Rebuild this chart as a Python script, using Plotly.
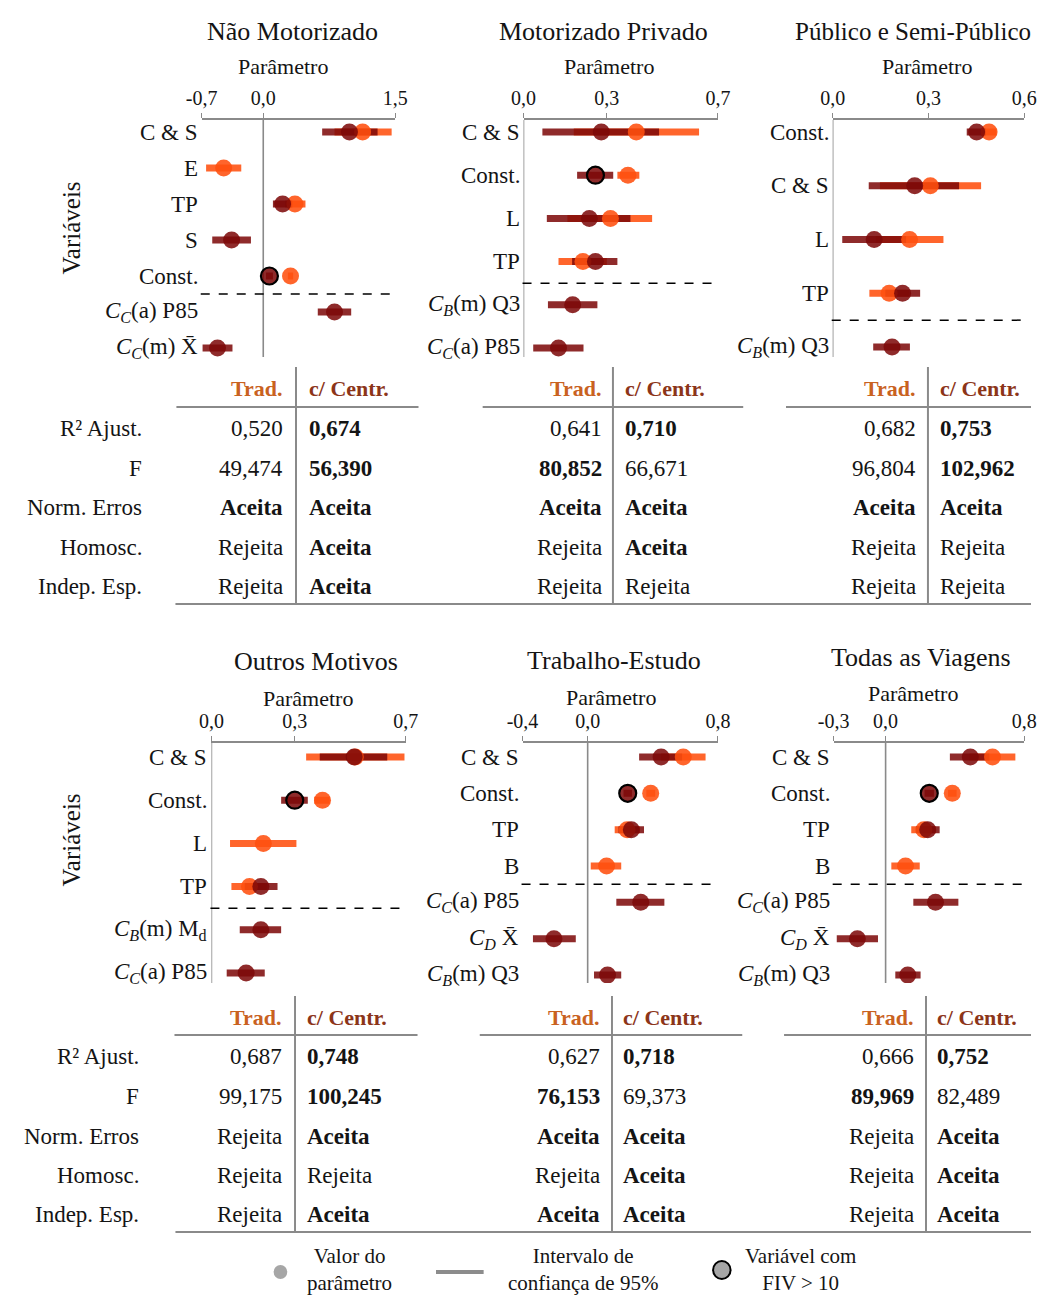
import plotly.graph_objects as go

# ---------------- Não Motorizado ----------------
nm_title = "Não Motorizado"
nm_vars = ["C & S", "E", "TP", "S", "Const.",
           "<i>C</i><sub><i>C</i></sub>(a) P85",
           "<i>C</i><sub><i>C</i></sub>(m) X\u0304"]
nm_ticks = [-0.7, 0.0, 1.5]
nm_trad = [1.13, -0.45, 0.36, None, 0.31, None, None]
nm_trad_lo = [0.81, -0.65, 0.25, None, 0.28, None, None]
nm_trad_hi = [1.46, -0.25, 0.48, None, 0.34, None, None]
nm_cent = [0.98, None, 0.22, -0.36, 0.07, 0.81, -0.52]
nm_cent_lo = [0.67, None, 0.11, -0.58, 0.03, 0.62, -0.69]
nm_cent_hi = [1.30, None, 0.33, -0.14, 0.11, 1.00, -0.35]
nm_fiv = ["Const."]
nm_n_base = 5
nm_stats_trad = [0.520, 49.474, "Aceita", "Rejeita", "Rejeita"]
nm_stats_cent = [0.674, 56.390, "Aceita", "Aceita", "Aceita"]

# ---------------- Motorizado Privado ----------------
mp_title = "Motorizado Privado"
mp_vars = ["C & S", "Const.", "L", "TP",
           "<i>C</i><sub><i>B</i></sub>(m) Q3",
           "<i>C</i><sub><i>C</i></sub>(a) P85"]
mp_ticks = [0.0, 0.3, 0.7]
mp_trad = [0.406, 0.376, 0.313, 0.214, None, None]
mp_trad_lo = [0.181, 0.338, 0.158, 0.126, None, None]
mp_trad_hi = [0.632, 0.417, 0.463, 0.300, None, None]
mp_cent = [0.280, 0.259, 0.237, 0.259, 0.177, 0.126]
mp_cent_lo = [0.068, 0.193, 0.084, 0.175, 0.088, 0.035]
mp_cent_hi = [0.488, 0.323, 0.385, 0.338, 0.266, 0.216]
mp_fiv = ["Const."]
mp_n_base = 4
mp_stats_trad = [0.641, 80.852, "Aceita", "Rejeita", "Rejeita"]
mp_stats_cent = [0.710, 66.671, "Aceita", "Aceita", "Rejeita"]

# ---------------- Público e Semi-Público ----------------
ps_title = "Público e Semi-Público"
ps_vars = ["Const.", "C & S", "L", "TP",
           "<i>C</i><sub><i>B</i></sub>(m) Q3"]
ps_ticks = [0.0, 0.3, 0.6]
ps_trad = [0.490, 0.306, 0.241, 0.177, None]
ps_trad_lo = [0.465, 0.148, 0.135, 0.115, None]
ps_trad_hi = [0.513, 0.465, 0.347, 0.240, None]
ps_cent = [0.451, 0.257, 0.130, 0.219, 0.186]
ps_cent_lo = [0.420, 0.113, 0.030, 0.165, 0.127]
ps_cent_hi = [0.480, 0.396, 0.230, 0.274, 0.242]
ps_fiv = []
ps_n_base = 4
ps_stats_trad = [0.682, 96.804, "Aceita", "Rejeita", "Rejeita"]
ps_stats_cent = [0.753, 102.962, "Aceita", "Rejeita", "Rejeita"]

# ---------------- Outros Motivos ----------------
om_title = "Outros Motivos"
om_vars = ["C & S", "Const.", "L", "TP",
           "<i>C</i><sub><i>B</i></sub>(m) M<sub>d</sub>",
           "<i>C</i><sub><i>C</i></sub>(a) P85"]
om_ticks = [0.0, 0.3, 0.7]
om_trad = [0.518, 0.400, 0.187, 0.137, None, None]
om_trad_lo = [0.341, 0.370, 0.067, 0.072, None, None]
om_trad_hi = [0.695, 0.426, 0.306, 0.200, None, None]
om_cent = [0.514, 0.300, None, 0.178, 0.178, 0.125]
om_cent_lo = [0.390, 0.251, None, 0.120, 0.102, 0.055]
om_cent_hi = [0.633, 0.347, None, 0.238, 0.251, 0.192]
om_fiv = ["Const."]
om_n_base = 4
om_stats_trad = [0.687, 99.175, "Rejeita", "Rejeita", "Rejeita"]
om_stats_cent = [0.748, 100.245, "Aceita", "Rejeita", "Aceita"]

# ---------------- Trabalho-Estudo ----------------
te_title = "Trabalho-Estudo"
te_vars = ["C & S", "Const.", "TP", "B",
           "<i>C</i><sub><i>C</i></sub>(a) P85",
           "<i>C</i><sub><i>D</i></sub> X\u0304",
           "<i>C</i><sub><i>B</i></sub>(m) Q3"]
te_ticks = [-0.4, 0.0, 0.8]
te_trad = [0.587, 0.387, 0.242, 0.116, None, None, None]
te_trad_lo = [0.450, 0.360, 0.166, 0.019, None, None, None]
te_trad_hi = [0.724, 0.415, 0.320, 0.206, None, None, None]
te_cent = [0.451, 0.246, 0.268, None, 0.326, -0.207, 0.122]
te_cent_lo = [0.316, 0.220, 0.190, None, 0.176, -0.336, 0.039]
te_cent_hi = [0.580, 0.272, 0.346, None, 0.471, -0.073, 0.206]
te_fiv = ["Const."]
te_n_base = 4
te_stats_trad = [0.627, 76.153, "Aceita", "Rejeita", "Aceita"]
te_stats_cent = [0.718, 69.373, "Aceita", "Aceita", "Aceita"]

# ---------------- Todas as Viagens ----------------
tv_title = "Todas as Viagens"
tv_vars = ["C & S", "Const.", "TP", "B",
           "<i>C</i><sub><i>C</i></sub>(a) P85",
           "<i>C</i><sub><i>D</i></sub> X\u0304",
           "<i>C</i><sub><i>B</i></sub>(m) Q3"]
tv_ticks = [-0.3, 0.0, 0.8]
tv_trad = [0.617, 0.385, 0.221, 0.115, None, None, None]
tv_trad_lo = [0.485, 0.360, 0.148, 0.033, None, None, None]
tv_trad_hi = [0.749, 0.410, 0.290, 0.197, None, None, None]
tv_cent = [0.489, 0.252, 0.243, None, 0.288, -0.163, 0.128]
tv_cent_lo = [0.371, 0.225, 0.175, None, 0.160, -0.282, 0.056]
tv_cent_hi = [0.600, 0.279, 0.312, None, 0.420, -0.044, 0.202]
tv_fiv = ["Const."]
tv_n_base = 4
tv_stats_trad = [0.666, 89.969, "Rejeita", "Rejeita", "Rejeita"]
tv_stats_cent = [0.752, 82.489, "Aceita", "Aceita", "Aceita"]

stat_labels = ["R² Ajust.", "F", "Norm. Erros", "Homosc.", "Indep. Esp."]
col_headers = ["Trad.", "c/ Centr."]
legend_texts = ["Valor do<br>parâmetro", "Intervalo de<br>confiança de 95%",
                "Variável com<br>FIV > 10"]
side_title = "Variáveis"
axis_title = "Parâmetro"

panels = [
    dict(title=nm_title, vars=nm_vars, ticks=nm_ticks, trad=nm_trad, trad_lo=nm_trad_lo,
         trad_hi=nm_trad_hi, cent=nm_cent, cent_lo=nm_cent_lo, cent_hi=nm_cent_hi,
         fiv=nm_fiv, n_base=nm_n_base, st=nm_stats_trad, sc=nm_stats_cent),
    dict(title=mp_title, vars=mp_vars, ticks=mp_ticks, trad=mp_trad, trad_lo=mp_trad_lo,
         trad_hi=mp_trad_hi, cent=mp_cent, cent_lo=mp_cent_lo, cent_hi=mp_cent_hi,
         fiv=mp_fiv, n_base=mp_n_base, st=mp_stats_trad, sc=mp_stats_cent),
    dict(title=ps_title, vars=ps_vars, ticks=ps_ticks, trad=ps_trad, trad_lo=ps_trad_lo,
         trad_hi=ps_trad_hi, cent=ps_cent, cent_lo=ps_cent_lo, cent_hi=ps_cent_hi,
         fiv=ps_fiv, n_base=ps_n_base, st=ps_stats_trad, sc=ps_stats_cent),
    dict(title=om_title, vars=om_vars, ticks=om_ticks, trad=om_trad, trad_lo=om_trad_lo,
         trad_hi=om_trad_hi, cent=om_cent, cent_lo=om_cent_lo, cent_hi=om_cent_hi,
         fiv=om_fiv, n_base=om_n_base, st=om_stats_trad, sc=om_stats_cent),
    dict(title=te_title, vars=te_vars, ticks=te_ticks, trad=te_trad, trad_lo=te_trad_lo,
         trad_hi=te_trad_hi, cent=te_cent, cent_lo=te_cent_lo, cent_hi=te_cent_hi,
         fiv=te_fiv, n_base=te_n_base, st=te_stats_trad, sc=te_stats_cent),
    dict(title=tv_title, vars=tv_vars, ticks=tv_ticks, trad=tv_trad, trad_lo=tv_trad_lo,
         trad_hi=tv_trad_hi, cent=tv_cent, cent_lo=tv_cent_lo, cent_hi=tv_cent_hi,
         fiv=tv_fiv, n_base=tv_n_base, st=tv_stats_trad, sc=tv_stats_cent),
]

# ---------------- layout geometry (pixels) ----------------
W, H = 1044, 1295
FONT = "Liberation Serif, Times New Roman, serif"
TEXT = "#141414"
AXIS = "#8a8a8a"
ORANGE = "rgba(255,80,15,0.88)"
DARK = "rgba(125,8,8,0.86)"
TRAD_HDR = "#c9621f"
CENT_HDR = "#8c3519"
GRAY = "#a6a6a6"

# plot box: left, right, top, bottom, first row centre, last row centre
boxes = [
    (191, 390, 120, 357, 132, 348),
    (522, 722, 120, 357, 132, 348),
    (840, 1037, 120, 357, 132, 347),
    (201, 401, 743, 983, 757, 973),
    (521, 722, 743, 983, 757, 975),
    (841, 1037, 743, 983, 757, 975),
]
# title centre x/y, title font size, "Parâmetro" centre x/y
title_pos = [
    (284, 31, 26, 275, 67), (604, 31, 26, 610, 67), (923, 31, 25, 937, 67),
    (309, 661, 26, 300, 698), (615, 660, 26, 612, 697), (931, 657, 26, 923, 694),
]
# table columns: trad right edge, divider, centr left edge, header rule x0, x1
table_cols = [
    (277, 288, 299, 165, 414), (605, 614, 624, 480, 748), (928, 938, 948, 792, 1044),
    (276, 287, 297, 163, 413), (603, 613, 622, 477, 747), (926, 936, 945, 790, 1044),
]
# table rows per band: header y, row ys, header rule y, bottom rule y, divider top, label right x
table_rows = [
    (389, [428, 468, 507, 547, 586], 407, 604, 367, 132),
    (1017, [1056, 1096, 1136, 1175, 1214], 1035, 1232, 996, 129),
]


def fx(px):
    return px / W


def fy(py):
    return 1 - py / H


def num(v):
    return f"{v:.1f}".replace(".", ",")


fig = go.Figure()
shapes, annotations, axes = [], [], {}

for k, (p, box) in enumerate(zip(panels, boxes), start=1):
    xa = "x" if k == 1 else f"x{k}"
    ya = "y" if k == 1 else f"y{k}"
    left, right, top, bottom, r0, r1 = box
    n = len(p["vars"])
    step = (r1 - r0) / (n - 1)
    yrange = [n - 1 + (bottom - r1) / step, -(r0 - top) / step]
    t = p["ticks"]

    axes["xaxis" if k == 1 else f"xaxis{k}"] = dict(
        domain=[fx(left), fx(right)], range=[t[0], t[-1]], side="top", anchor=ya,
        showline=True, linecolor=AXIS, linewidth=1.6, ticks="outside", ticklen=5,
        tickcolor=AXIS, tickwidth=1.4, tickvals=t, ticktext=[num(v) for v in t],
        tickfont=dict(family=FONT, size=20, color=TEXT), showgrid=False,
        zeroline=False, fixedrange=True)
    axes["yaxis" if k == 1 else f"yaxis{k}"] = dict(
        domain=[fy(bottom), fy(top)], range=yrange, anchor=xa, showline=False,
        showticklabels=False, ticks="", showgrid=False, zeroline=False, fixedrange=True)

    # confidence intervals
    for key, color in (("trad", ORANGE), ("cent", DARK)):
        xs, ys = [], []
        for i in range(n):
            lo, hi = p[key + "_lo"][i], p[key + "_hi"][i]
            if lo is None:
                continue
            xs += [lo, hi, None]
            ys += [i, i, None]
        fig.add_trace(go.Scatter(x=xs, y=ys, mode="lines", xaxis=xa, yaxis=ya,
                                 line=dict(color=color, width=7), hoverinfo="skip",
                                 showlegend=False))
    # parameter values
    for key, color in (("trad", ORANGE), ("cent", DARK)):
        idx = [i for i, v in enumerate(p[key]) if v is not None]
        widths = [2.2 if (key == "cent" and p["vars"][i] in p["fiv"]) else 0 for i in idx]
        fig.add_trace(go.Scatter(
            x=[p[key][i] for i in idx], y=idx, mode="markers", xaxis=xa, yaxis=ya,
            marker=dict(size=17, color=color, line=dict(color="black", width=widths)),
            hoverinfo="skip", showlegend=False))

    # zero line and separator of added variables
    shapes.append(dict(type="line", xref=xa, yref=f"{ya} domain", x0=0, x1=0, y0=0, y1=1,
                       line=dict(color=AXIS, width=1.6), layer="below"))
    sep = p["n_base"] - 0.5
    shapes.append(dict(type="line", xref=f"{xa} domain", yref=ya, x0=-0.005, x1=1.0,
                       y0=sep, y1=sep, line=dict(color="black", width=1.5, dash="dash")))

    # variable names
    for i, lab in enumerate(p["vars"]):
        annotations.append(dict(xref=f"{xa} domain", yref=ya, x=0, y=i, xanchor="right",
                                yanchor="middle", xshift=-2, text=lab, showarrow=False,
                                font=dict(family=FONT, size=23, color=TEXT)))

    tx, ty, tsize, px_, py_ = title_pos[k - 1]
    annotations.append(dict(xref="paper", yref="paper", x=fx(tx), y=fy(ty), text=p["title"],
                            showarrow=False, xanchor="center", yanchor="middle",
                            font=dict(family=FONT, size=tsize, color=TEXT)))
    annotations.append(dict(xref="paper", yref="paper", x=fx(px_), y=fy(py_), text=axis_title,
                            showarrow=False, xanchor="center", yanchor="middle",
                            font=dict(family=FONT, size=22, color=TEXT)))

    # statistics table
    tr, dv, cl, hx0, hx1 = table_cols[k - 1]
    hy, rys, hline, bline, dtop, lab_x = table_rows[0 if k <= 3 else 1]
    annotations.append(dict(xref="paper", yref="paper", x=fx(tr), y=fy(hy), text=f"<b>{col_headers[0]}</b>",
                            showarrow=False, xanchor="right", yanchor="middle",
                            font=dict(family=FONT, size=22, color=TRAD_HDR)))
    annotations.append(dict(xref="paper", yref="paper", x=fx(cl), y=fy(hy), text=f"<b>{col_headers[1]}</b>",
                            showarrow=False, xanchor="left", yanchor="middle",
                            font=dict(family=FONT, size=22, color=CENT_HDR)))
    for r, (a, b) in enumerate(zip(p["st"], p["sc"])):
        if isinstance(a, float):
            sa, sb = f"{a:.3f}".replace(".", ","), f"{b:.3f}".replace(".", ",")
            ba, bb = a > b, b > a
        else:
            sa, sb = a, b
            ba, bb = a == "Aceita", b == "Aceita"
        for txt, bold, xx, anc in ((sa, ba, tr, "right"), (sb, bb, cl, "left")):
            annotations.append(dict(xref="paper", yref="paper", x=fx(xx), y=fy(rys[r]),
                                    text=f"<b>{txt}</b>" if bold else txt, showarrow=False,
                                    xanchor=anc, yanchor="middle",
                                    font=dict(family=FONT, size=23, color=TEXT)))
    shapes.append(dict(type="line", xref="paper", yref="paper", x0=fx(hx0), x1=fx(hx1),
                       y0=fy(hline), y1=fy(hline), line=dict(color=AXIS, width=2)))
    shapes.append(dict(type="line", xref="paper", yref="paper", x0=fx(dv), x1=fx(dv),
                       y0=fy(dtop), y1=fy(bline), line=dict(color=AXIS, width=2)))

# row labels and bottom rules of the two table bands
for hy, rys, hline, bline, dtop, lab_x in table_rows:
    for r, lab in enumerate(stat_labels):
        annotations.append(dict(xref="paper", yref="paper", x=fx(lab_x), y=fy(rys[r]), text=lab,
                                showarrow=False, xanchor="right", yanchor="middle",
                                font=dict(family=FONT, size=23, color=TEXT)))
    shapes.append(dict(type="line", xref="paper", yref="paper", x0=fx(164), x1=1,
                       y0=fy(bline), y1=fy(bline), line=dict(color=AXIS, width=2)))

# vertical side titles
for yy in (228, 840):
    annotations.append(dict(xref="paper", yref="paper", x=fx(57), y=fy(yy), text=side_title,
                            textangle=-90, showarrow=False, xanchor="center", yanchor="middle",
                            font=dict(family=FONT, size=25, color=TEXT)))

# legend
shapes.append(dict(type="circle", xref="paper", yref="paper", x0=fx(265), x1=fx(279),
                   y0=fy(1279), y1=fy(1265), fillcolor=GRAY, line=dict(width=0)))
shapes.append(dict(type="line", xref="paper", yref="paper", x0=fx(432), x1=fx(481),
                   y0=fy(1272), y1=fy(1272), line=dict(color="#8c8c8c", width=4)))
shapes.append(dict(type="circle", xref="paper", yref="paper", x0=fx(717), x1=fx(735),
                   y0=fy(1279), y1=fy(1261), fillcolor=GRAY, line=dict(color="black", width=2)))
for txt, cx in zip(legend_texts, (343, 583, 807)):
    annotations.append(dict(xref="paper", yref="paper", x=fx(cx), y=fy(1269), text=txt,
                            showarrow=False, xanchor="center", yanchor="middle",
                            font=dict(family=FONT, size=21, color=TEXT)))

fig.update_layout(width=W, height=H, margin=dict(l=0, r=0, t=0, b=0),
                  paper_bgcolor="white", plot_bgcolor="rgba(0,0,0,0)", showlegend=False,
                  shapes=shapes, annotations=annotations, **axes)

fig.write_html("out.html")
